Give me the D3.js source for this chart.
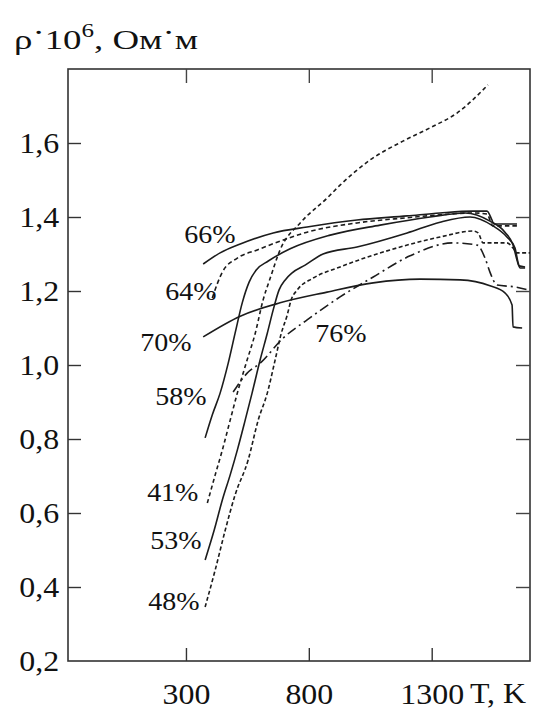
<!DOCTYPE html>
<html>
<head>
<meta charset="utf-8">
<script src="https://cdn.jsdelivr.net/npm/d3@7"></script>
<style>
  html, body { margin: 0; padding: 0; background: #fff; }
  svg { display: block; }
  text { font-family: "Liberation Serif", "Times New Roman", serif; fill: #111; }
</style>
</head>
<body>
<svg id="chart" width="554" height="711"></svg>
<script>
// Axis ticks: temperature T (K) and resistivity ρ·10⁶ (Ом·м)
const tempTicks = [300, 800, 1300];
const tempTickLabels = ["300", "800", "1300"];
const rhoTicks = [0.2, 0.4, 0.6, 0.8, 1.0, 1.2, 1.4, 1.6];
const rhoTickLabels = ["0,2", "0,4", "0,6", "0,8", "1,0", "1,2", "1,4", "1,6"];

// Measured curves, [T, ρ·10⁶] pairs, one array per composition
const rho66 = [[370,1.273],[439,1.303],[521,1.327],[655,1.357],[793,1.373],[996,1.392],[1200,1.403],[1334,1.411],[1468,1.416],[1525,1.416],[1545,1.392],[1553,1.381],[1647,1.381]];
const rho64 = [[407,1.181],[448,1.251],[509,1.289],[590,1.311],[696,1.338],[793,1.359],[996,1.384],[1200,1.398],[1334,1.406],[1468,1.411],[1525,1.408],[1549,1.376],[1647,1.376]];
const rho70 = [[370,1.076],[521,1.132],[683,1.168],[874,1.197],[1062,1.222],[1253,1.232],[1416,1.230],[1537,1.214],[1598,1.195],[1627,1.162],[1631,1.103],[1668,1.100]];
const rho58 = [[378,0.803],[407,0.865],[439,0.924],[472,1.005],[500,1.086],[529,1.168],[557,1.224],[586,1.257],[635,1.281],[724,1.314],[887,1.351],[1090,1.378],[1293,1.400],[1436,1.411],[1537,1.389],[1598,1.359],[1631,1.324],[1647,1.284],[1655,1.268],[1680,1.265]];
const rho41 = [[387,0.627],[419,0.703],[448,0.770],[480,0.851],[509,0.924],[545,1.005],[582,1.086],[614,1.176],[643,1.235],[683,1.311],[765,1.384],[874,1.451],[927,1.486],[1049,1.554],[1183,1.605],[1293,1.641],[1403,1.681],[1529,1.757]];
const rho53 = [[378,0.473],[415,0.554],[448,0.635],[480,0.703],[509,0.770],[541,0.851],[569,0.924],[602,1.014],[631,1.086],[655,1.149],[679,1.203],[704,1.230],[732,1.249],[785,1.270],[858,1.300],[996,1.319],[1200,1.357],[1334,1.386],[1456,1.400],[1549,1.376],[1606,1.346],[1639,1.316],[1651,1.278],[1660,1.262],[1680,1.262]];
const rho48 = [[378,0.346],[419,0.446],[460,0.554],[500,0.649],[553,0.743],[594,0.851],[631,0.924],[663,1.014],[688,1.086],[712,1.135],[728,1.176],[753,1.203],[818,1.235],[927,1.265],[1131,1.311],[1334,1.346],[1468,1.362],[1489,1.357],[1509,1.330],[1606,1.330],[1631,1.316],[1647,1.303],[1700,1.303]];
const rho76 = [[492,0.927],[549,0.978],[602,1.005],[696,1.073],[793,1.122],[927,1.184],[1062,1.238],[1212,1.295],[1387,1.330],[1485,1.324],[1517,1.289],[1537,1.251],[1566,1.216],[1639,1.211],[1693,1.203]];

const seriesNames = ["66%", "64%", "70%", "58%", "41%", "53%", "48%", "76%"];
const seriesData  = [rho66, rho64, rho70, rho58, rho41, rho53, rho48, rho76];

// Where each composition label sits, in data units (left edge, baseline)
const labelAt = [[293,1.330],[216,1.176],[114,1.038],[175,0.892],[142,0.632],[155,0.503],[147,0.338],[826,1.062]];

// Line style per composition
const dashStyle = {
  "66%": null, "64%": "4.5,3", "70%": null, "58%": null,
  "41%": "4,3", "53%": null, "48%": "4,2.5", "76%": "10,4,2,4"
};

const svg = d3.select("#chart");
const plotLeft = 68, plotRight = 530, plotTop = 69, plotBottom = 661;

const x = d3.scaleLinear().domain([-180, 1700]).range([plotLeft, plotRight]);
const y = d3.scaleLinear().domain([0.2, 1.8]).range([plotBottom, plotTop]);

const stretch = "scale(1.1,1)";

// Frame
svg.append("rect")
  .attr("x", plotLeft).attr("y", plotTop)
  .attr("width", plotRight - plotLeft).attr("height", plotBottom - plotTop)
  .attr("fill", "none").attr("stroke", "#333").attr("stroke-width", 1.6);

// Left axis with labels, ticks pointing inward
const yAxis = svg.append("g")
  .attr("transform", `translate(${plotLeft},0)`)
  .call(d3.axisLeft(y).tickValues(rhoTicks)
    .tickFormat((d, i) => rhoTickLabels[i])
    .tickSize(-13).tickPadding(8));
yAxis.select(".domain").remove();
yAxis.selectAll(".tick line").attr("stroke", "#333").attr("stroke-width", 1.4)
  .filter(d => d === 0.2).remove();
yAxis.selectAll(".tick text")
  .attr("font-size", 29).attr("fill", "#111")
  .attr("font-family", "Liberation Serif, Times New Roman, serif")
  .attr("dy", "0.34em").attr("transform", stretch);

// Bottom axis with labels
const xAxis = svg.append("g")
  .attr("transform", `translate(0,${plotBottom})`)
  .call(d3.axisBottom(x).tickValues(tempTicks)
    .tickFormat((d, i) => tempTickLabels[i])
    .tickSize(-13).tickPadding(22));
xAxis.select(".domain").remove();
xAxis.selectAll(".tick line").attr("stroke", "#333").attr("stroke-width", 1.4);
xAxis.selectAll(".tick text")
  .attr("font-size", 29).attr("fill", "#111")
  .attr("font-family", "Liberation Serif, Times New Roman, serif")
  .attr("transform", stretch);

// Top and right axes: ticks only
const topAxis = svg.append("g")
  .attr("transform", `translate(0,${plotTop})`)
  .call(d3.axisTop(x).tickValues(tempTicks).tickFormat("").tickSize(-14));
topAxis.select(".domain").remove();
topAxis.selectAll(".tick line").attr("stroke", "#444").attr("stroke-width", 1.4);

const rightAxis = svg.append("g")
  .attr("transform", `translate(${plotRight},0)`)
  .call(d3.axisRight(y).tickValues(rhoTicks.filter(v => v > 0.2)).tickFormat("").tickSize(-14));
rightAxis.select(".domain").remove();
rightAxis.selectAll(".tick line").attr("stroke", "#444").attr("stroke-width", 1.4);

// Axis titles
svg.append("text")
  .attr("font-size", 29)
  .attr("transform", "translate(470,703) scale(1.1,1)")
  .text("T, K");

const title = svg.append("text")
  .attr("x", 14).attr("y", 49)
  .attr("font-size", 28)
  .attr("textLength", 184).attr("lengthAdjust", "spacingAndGlyphs");
title.append("tspan").text("ρ");
title.append("tspan").attr("dy", -7).text("·");
title.append("tspan").attr("dy", 7).text("10");
title.append("tspan").attr("dy", -12).attr("font-size", 19).text("6");
title.append("tspan").attr("dy", 12).text(", Ом");
title.append("tspan").attr("dy", -7).text("·");
title.append("tspan").attr("dy", 7).text("м");

// Curves
const line = d3.line()
  .x(d => x(d[0]))
  .y(d => y(d[1]))
  .curve(d3.curveMonotoneX);

const plot = svg.append("g");
seriesNames.forEach((name, i) => {
  plot.append("path")
    .datum(seriesData[i])
    .attr("d", line)
    .attr("fill", "none")
    .attr("stroke", "#1c1c1c")
    .attr("stroke-width", 1.6)
    .attr("stroke-linejoin", "round")
    .attr("stroke-dasharray", dashStyle[name]);
});

// Composition labels
seriesNames.forEach((name, i) => {
  const px = x(labelAt[i][0]), py = y(labelAt[i][1]);
  svg.append("text")
    .attr("transform", `translate(${px},${py}) scale(1.12,1)`)
    .attr("font-size", 25)
    .text(name);
});
</script>
</body>
</html>
